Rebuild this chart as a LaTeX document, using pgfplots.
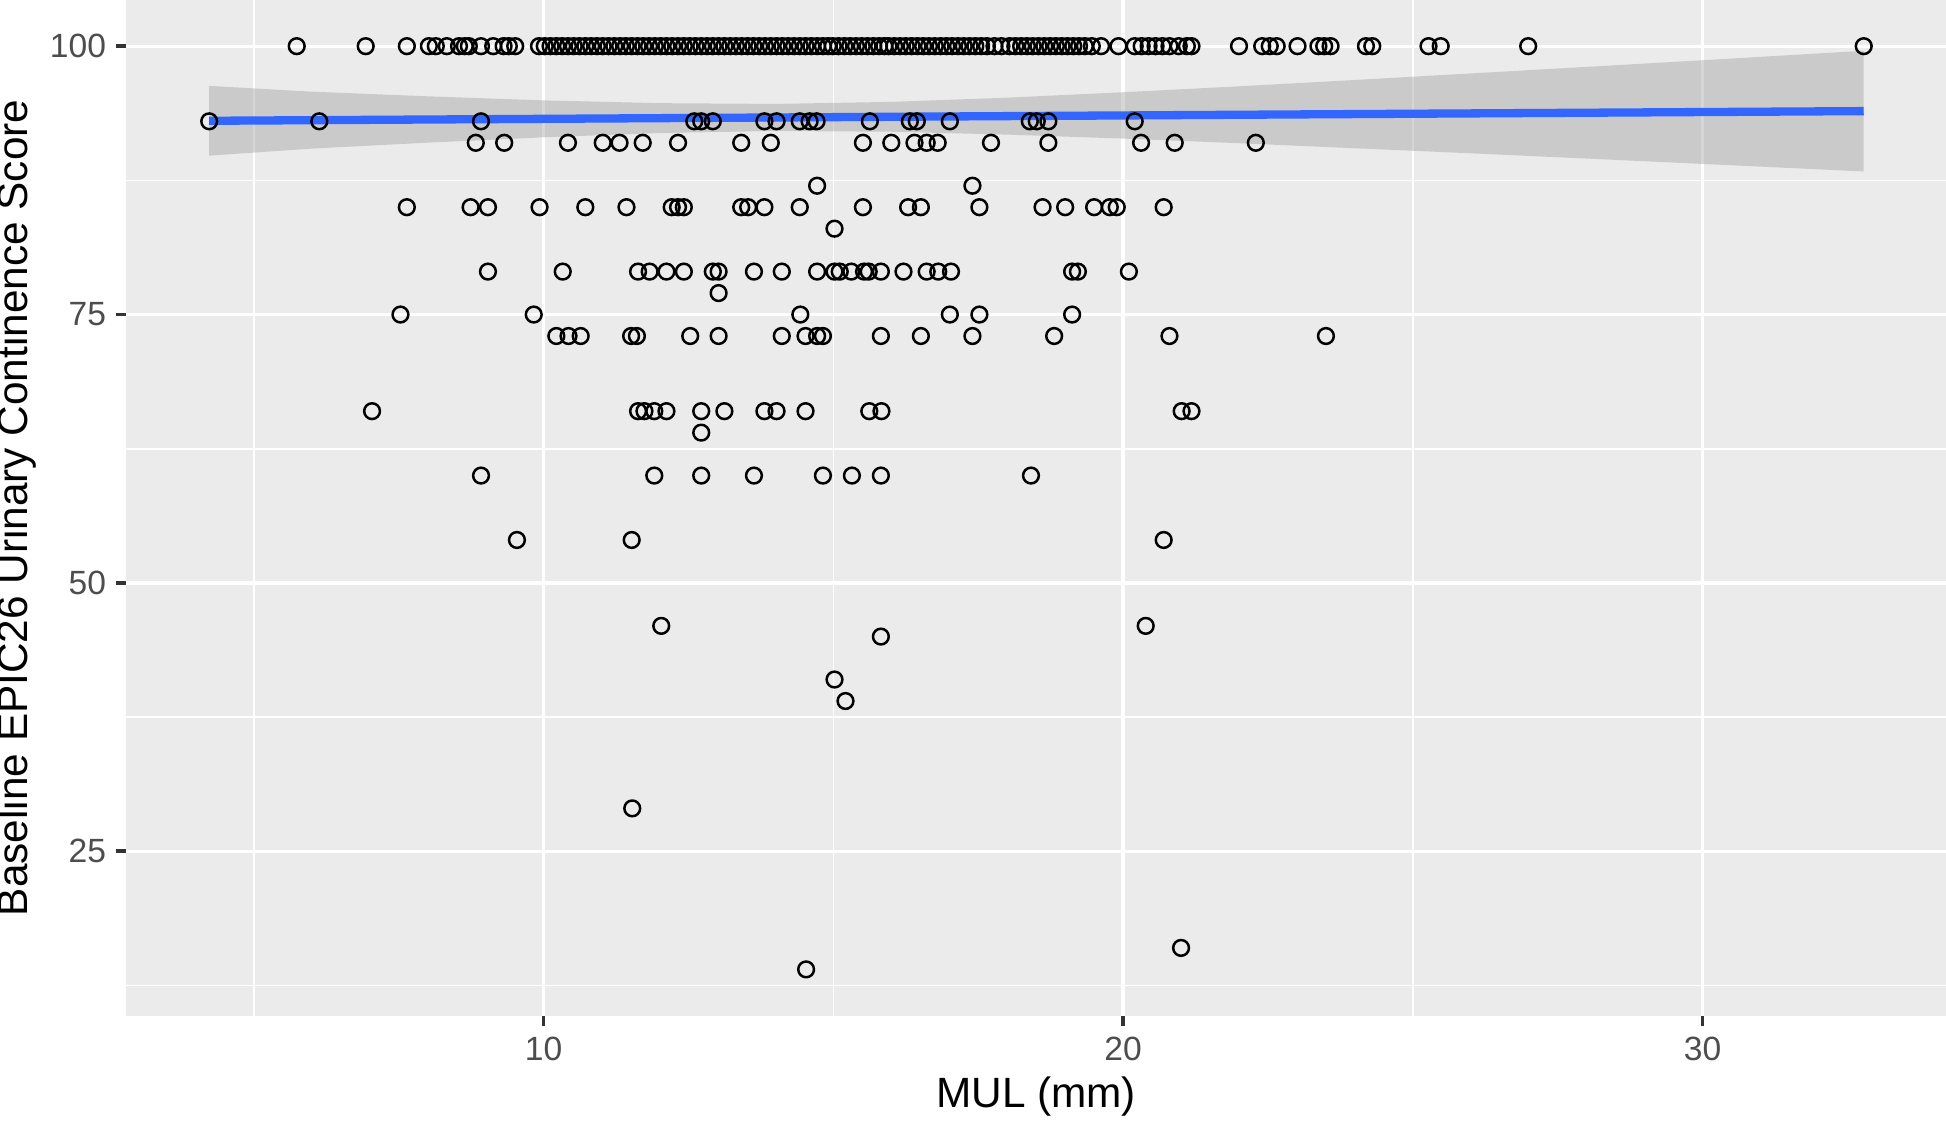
\documentclass[border=0pt]{standalone}
\usepackage{pgfplots}
\pgfplotsset{compat=1.18}
\usepackage{fontspec}
\setmainfont{Liberation Sans}
\definecolor{panelbg}{HTML}{EBEBEB}
\definecolor{ticktext}{HTML}{4D4D4D}
\definecolor{tickcol}{HTML}{333333}
\definecolor{smoothblue}{HTML}{3366FF}
\begin{document}
\begin{tikzpicture}
\begin{axis}[
    scale only axis,
    width=15.41cm, height=8.60cm,
    xmin=2.8, xmax=34.2, ymin=9.7, ymax=104.3,
    xtick={10,20,30}, ytick={25,50,75,100},
    minor xtick={5,15,25}, minor ytick={12.5,37.5,62.5,87.5},
    grid=both,
    major grid style={white, line width=0.8pt},
    minor grid style={white, line width=0.4pt},
    axis background/.style={fill=panelbg},
    axis line style={draw=none},
    tick align=outside, xtick pos=left, ytick pos=left,
    major tick length=2.4pt, minor tick length=0pt,
    major tick style={tickcol, line width=0.9pt},
    ticklabel style={font=\fontsize{8.1}{10}\selectfont, text=ticktext, inner sep=1pt},
    xticklabel style={yshift=-1.6pt},
    yticklabel style={xshift=-1.3pt},
    /pgf/number format/assume math mode=true,
    xlabel={MUL (mm)},
    ylabel={Baseline EPIC26 Urinary Continence Score},
    label style={font=\fontsize{10.2}{12}\selectfont},
    xlabel style={at={(axis description cs:0.5,-0.080)}, anchor=center},
    ylabel style={at={(axis description cs:-0.0605,0.5)}, anchor=center},
    every axis plot/.append style={line join=round},
]
% observed points (open circles)
\addplot[only marks, mark=o, mark size=1.9pt, mark options={line width=0.6pt, black}] coordinates {
% y = 100
(5.74,100) (6.93,100) (7.64,100) (8.02,100) (8.14,100) (8.33,100) (8.54,100) (8.64,100) (8.71,100) (8.92,100) (9.13,100) (9.31,100) (9.40,100) (9.51,100)
(9.92,100) (10.02,100) (10.12,100) (10.22,100) (10.32,100) (10.42,100) (10.52,100) (10.62,100) (10.72,100) (10.82,100)
(10.92,100) (11.02,100) (11.12,100) (11.22,100) (11.32,100) (11.42,100) (11.52,100) (11.62,100) (11.72,100) (11.82,100)
(11.92,100) (12.02,100) (12.12,100) (12.22,100) (12.32,100) (12.42,100) (12.52,100) (12.62,100) (12.72,100) (12.82,100)
(12.92,100) (13.02,100) (13.12,100) (13.22,100) (13.32,100) (13.42,100) (13.52,100) (13.62,100) (13.72,100) (13.82,100)
(13.92,100) (14.02,100) (14.12,100) (14.22,100) (14.32,100) (14.42,100) (14.52,100) (14.62,100) (14.72,100) (14.82,100) (14.91,100)
(14.99,100) (15.09,100) (15.19,100) (15.29,100) (15.39,100) (15.49,100) (15.59,100) (15.69,100) (15.79,100) (15.88,100)
(15.95,100) (16.05,100) (16.15,100) (16.25,100) (16.35,100) (16.45,100) (16.55,100) (16.65,100) (16.75,100) (16.85,100)
(16.95,100) (17.05,100) (17.15,100) (17.25,100) (17.35,100) (17.45,100) (17.55,100) (17.65,100) (17.78,100) (17.90,100)
(18.04,100) (18.14,100) (18.24,100) (18.34,100) (18.44,100) (18.54,100) (18.64,100) (18.74,100) (18.84,100) (18.94,100)
(19.04,100) (19.14,100) (19.24,100) (19.34,100) (19.46,100) (19.62,100) (19.92,100) (20.20,100) (20.32,100) (20.44,100)
(20.56,100) (20.68,100) (20.80,100) (20.96,100) (21.10,100) (21.18,100) (22.00,100) (22.40,100) (22.53,100) (22.65,100)
(23.01,100) (23.37,100) (23.47,100) (23.58,100) (24.19,100) (24.30,100) (25.27,100) (25.48,100) (26.99,100) (32.78,100)
% y = 93
(4.23,93) (6.13,93) (8.92,93) (12.60,93) (12.72,93) (12.92,93) (13.81,93) (14.02,93) (14.42,93) (14.59,93)
(14.71,93) (15.63,93) (16.32,93) (16.44,93) (17.01,93) (18.39,93) (18.51,93) (18.71,93) (20.20,93)
% y = 91
(8.83,91) (9.32,91) (10.42,91) (11.02,91) (11.31,91) (11.71,91) (12.32,91) (13.41,91) (13.92,91) (15.51,91)
(16.00,91) (16.40,91) (16.61,91) (16.80,91) (17.72,91) (18.71,91) (20.31,91) (20.89,91) (22.29,91)
% y = 87, 85, 83
(14.72,87) (17.40,87)
(7.64,85) (8.74,85) (9.04,85) (9.93,85) (10.72,85) (11.43,85) (12.21,85) (12.32,85) (12.42,85) (13.41,85)
(13.53,85) (13.81,85) (14.42,85) (15.51,85) (16.29,85) (16.51,85) (17.52,85) (18.61,85) (19.00,85) (19.50,85)
(19.77,85) (19.89,85) (20.70,85)
(15.02,83)
% y = 79, 77, 75
(9.04,79) (10.33,79) (11.63,79) (11.83,79) (12.12,79) (12.42,79) (12.92,79) (13.02,79) (13.63,79) (14.11,79)
(14.72,79) (15.02,79) (15.11,79) (15.31,79) (15.53,79) (15.61,79) (15.82,79) (16.21,79) (16.61,79) (16.81,79)
(17.03,79) (19.12,79) (19.22,79) (20.10,79)
(13.02,77)
(7.53,75) (9.83,75) (14.43,75) (17.01,75) (17.52,75) (19.12,75)
% y = 73
(10.22,73) (10.43,73) (10.64,73) (11.51,73) (11.61,73) (12.53,73) (13.02,73) (14.11,73) (14.52,73) (14.72,73)
(14.82,73) (15.82,73) (16.51,73) (17.40,73) (18.81,73) (20.80,73) (23.50,73)
% y = 66, 64, 60
(7.04,66) (11.63,66) (11.74,66) (11.91,66) (12.12,66) (12.72,66) (13.12,66) (13.81,66) (14.02,66) (14.52,66)
(15.62,66) (15.83,66) (21.01,66) (21.18,66)
(12.72,64)
(8.92,60) (11.91,60) (12.72,60) (13.63,60) (14.82,60) (15.32,60) (15.82,60) (18.41,60)
% lower values
(9.54,54) (11.52,54) (20.70,54)
(12.03,46) (20.39,46) (15.82,45)
(15.02,41) (15.21,39) (11.53,29) (21.00,16) (14.53,14)
};
% confidence band of the linear fit
\addplot[draw=none, fill=black!40, fill opacity=0.4] coordinates {
(4.23,96.30) (6,95.76) (8,95.33) (10,94.95) (12,94.69) (14,94.62) (16,94.81) (18,95.20)
(20,95.71) (22,96.26) (24,96.85) (26,97.46) (28,98.07) (30,98.69) (32.78,99.57)
(32.78,88.33) (30,89.03) (28,89.53) (26,90.02) (24,90.49) (22,90.96) (20,91.39) (18,91.76)
(16,92.03) (14,92.10) (12,91.91) (10,91.51) (8,91.01) (6,90.46) (4.23,89.80)
} -- cycle;
% linear fit
\addplot[smoothblue, line width=2pt] coordinates {
(4.23,93.05) (10,93.23) (16,93.42) (22,93.61) (28,93.80) (32.78,93.95)
};
\end{axis}
\pgfresetboundingbox
\path (current axis.south west) ++(-1.07cm,-0.90cm) rectangle (current axis.north east);
\end{tikzpicture}
\end{document}
